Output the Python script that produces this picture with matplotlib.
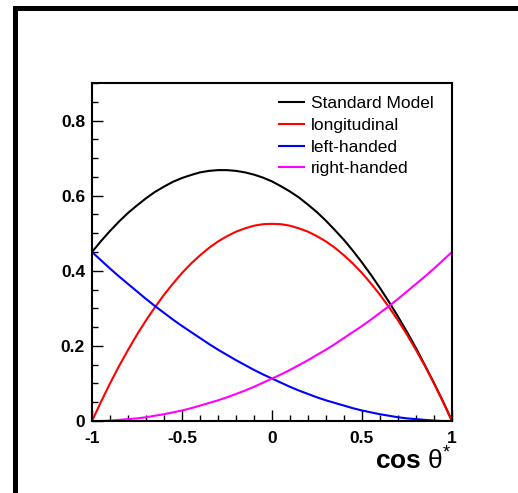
import matplotlib
matplotlib.use("Agg")
import matplotlib.pyplot as plt
from matplotlib.patches import Rectangle
from matplotlib.ticker import MultipleLocator

plt.rcParams['font.family'] = ['Liberation Sans', 'DejaVu Sans']
plt.rcParams['mathtext.fontset'] = 'custom'
plt.rcParams['mathtext.rm'] = 'Liberation Sans'
plt.rcParams['mathtext.bf'] = 'Liberation Sans:bold'
plt.rcParams['mathtext.it'] = 'Liberation Sans:italic'

# cos theta* sample points
cos_theta = [-1.00, -0.95, -0.90, -0.85, -0.80, -0.75, -0.70, -0.65, -0.60, -0.55,
             -0.50, -0.45, -0.40, -0.35, -0.30, -0.25, -0.20, -0.15, -0.10, -0.05,
             0.00, 0.05, 0.10, 0.15, 0.20, 0.25, 0.30, 0.35, 0.40, 0.45,
             0.50, 0.55, 0.60, 0.65, 0.70, 0.75, 0.80, 0.85, 0.90, 0.95, 1.00]

standard_model = [0.450, 0.479, 0.506, 0.531, 0.554, 0.574, 0.593, 0.610, 0.624, 0.637,
                  0.647, 0.655, 0.662, 0.666, 0.668, 0.668, 0.666, 0.662, 0.656, 0.648,
                  0.638, 0.625, 0.611, 0.595, 0.576, 0.556, 0.533, 0.508, 0.482, 0.453,
                  0.422, 0.389, 0.354, 0.317, 0.278, 0.237, 0.194, 0.148, 0.101, 0.052, 0.000]

longitudinal = [0.000, 0.051, 0.100, 0.146, 0.189, 0.230, 0.268, 0.303, 0.336, 0.366,
                0.394, 0.419, 0.441, 0.461, 0.478, 0.492, 0.504, 0.513, 0.520, 0.524,
                0.525, 0.524, 0.520, 0.513, 0.504, 0.492, 0.478, 0.461, 0.441, 0.419,
                0.394, 0.366, 0.336, 0.303, 0.268, 0.230, 0.189, 0.146, 0.100, 0.051, 0.000]

left_handed = [0.450, 0.428, 0.406, 0.385, 0.365, 0.345, 0.325, 0.306, 0.288, 0.270,
               0.253, 0.237, 0.221, 0.205, 0.190, 0.176, 0.162, 0.149, 0.136, 0.124,
               0.113, 0.102, 0.091, 0.081, 0.072, 0.063, 0.055, 0.048, 0.041, 0.034,
               0.028, 0.023, 0.018, 0.014, 0.010, 0.007, 0.005, 0.003, 0.001, 0.000, 0.000]

right_handed = [0.000, 0.000, 0.001, 0.003, 0.005, 0.007, 0.010, 0.014, 0.018, 0.023,
                0.028, 0.034, 0.041, 0.048, 0.055, 0.063, 0.072, 0.081, 0.091, 0.102,
                0.113, 0.124, 0.136, 0.149, 0.162, 0.176, 0.190, 0.205, 0.221, 0.237,
                0.253, 0.270, 0.288, 0.306, 0.325, 0.345, 0.365, 0.385, 0.406, 0.428, 0.450]

series_labels = ["Standard Model", "longitudinal", "left-handed", "right-handed"]
series_colors = ["#000000", "#ff0000", "#0000ff", "#ff00ff"]

x_ticks = [-1, -0.5, 0, 0.5, 1]
y_ticks = [0, 0.2, 0.4, 0.6, 0.8]

W, H = 518, 493
fig = plt.figure(figsize=(W / 100, H / 100), dpi=100)

# outer ROOT-canvas frame
fig.patches.append(Rectangle((14.5 / W, -0.1), 1.2, 1.1 - 8.5 / H,
                             transform=fig.transFigure, fill=False,
                             edgecolor='black', linewidth=3.6))

ax = fig.add_axes([92 / W, 1 - 421 / H, (452 - 92) / W, (421 - 83) / H])

for ys, lab, col in zip([standard_model, longitudinal, left_handed, right_handed],
                        series_labels, series_colors):
    ax.plot(cos_theta, ys, color=col, lw=1.5, label=lab, zorder=2)

ax.set_xlim(-1, 1)
ax.set_ylim(0, 0.9)

ax.xaxis.set_minor_locator(MultipleLocator(0.1))
ax.yaxis.set_minor_locator(MultipleLocator(0.05))

ax.tick_params(axis='both', which='both', direction='in', top=False, right=False, width=1.0)
ax.tick_params(axis='y', which='major', length=8, pad=5, labelsize=12.5)
ax.tick_params(axis='y', which='minor', length=4.5)
ax.tick_params(axis='x', which='major', length=8, pad=7, labelsize=12.5)
ax.tick_params(axis='x', which='minor', length=4)

ax.set_xticks(x_ticks)
ax.set_xticklabels([f"{v:g}" for v in x_ticks], fontweight='bold')
ax.set_yticks(y_ticks)
ax.set_yticklabels([f"{v:g}" for v in y_ticks], fontweight='bold')

for sp in ax.spines.values():
    sp.set_linewidth(1.5)
    sp.set_zorder(5)

leg = ax.legend(loc='upper left', bbox_to_anchor=(279 / W, 1 - 96 / H),
                bbox_transform=fig.transFigure, frameon=False, fontsize=12.5,
                handlelength=1.45, handletextpad=0.4, labelspacing=0.38,
                borderpad=0, borderaxespad=0)
for l in leg.get_lines():
    l.set_linewidth(1.5)

fig.text(452 / W, 1 - 470 / H, r'$\mathbf{cos}\ \mathrm{\theta}^{*}$',
         ha='right', va='baseline', fontsize=19)

fig.savefig("out.png", dpi=100)
